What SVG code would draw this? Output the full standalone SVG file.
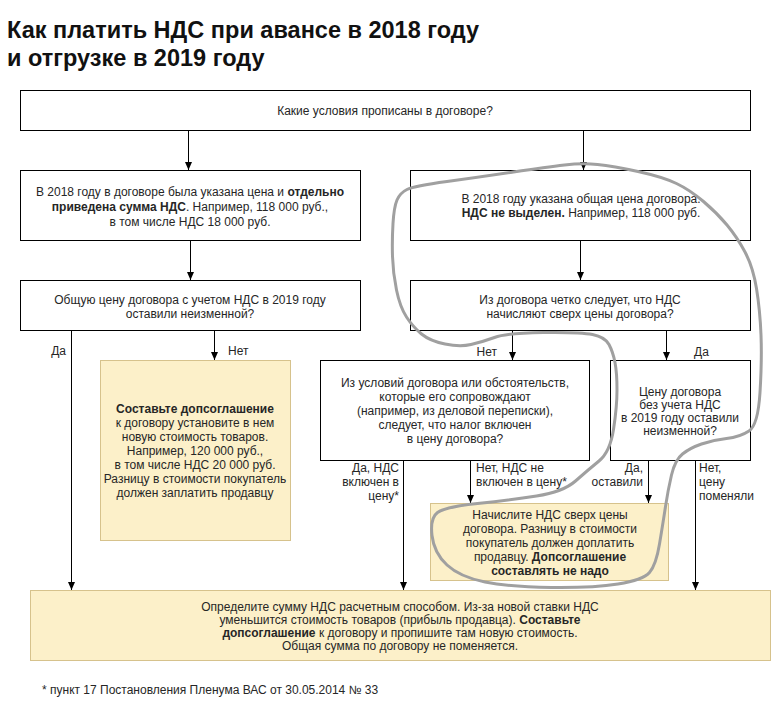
<svg xmlns="http://www.w3.org/2000/svg" width="771" height="701" viewBox="0 0 771 701">
  <defs>
    <marker id="ah" viewBox="0 0 8 8" refX="8" refY="4" markerWidth="8" markerHeight="8" markerUnits="userSpaceOnUse" orient="auto">
      <path d="M0,0.5 L8,4 L0,7.5 Z" fill="#000"/>
    </marker>
    <style>
      .box{fill:#fff;stroke:#000;stroke-width:1}
      .ybox{fill:#fcf0c9;stroke:#d6c28c;stroke-width:1}
      .t{font-family:"Liberation Sans",Arial,sans-serif;font-size:12px;fill:#262626;text-anchor:middle}
      .l{font-family:"Liberation Sans",Arial,sans-serif;font-size:12px;fill:#262626}
      .e{text-anchor:end}
      .b{font-weight:bold}
      .title{font-family:"Liberation Sans",Arial,sans-serif;font-size:23.5px;font-weight:bold;fill:#111}
      .conn line{stroke:#000;stroke-width:1;marker-end:url(#ah)}
    </style>
  </defs>
  <rect width="771" height="701" fill="#fff"/>

  <g id="title">
    <text class="title" x="7" y="38">Как платить НДС при авансе в 2018 году</text>
    <text class="title" x="7" y="66">и отгрузке в 2019 году</text>
  </g>

  <g id="n-top">
    <rect class="box" x="20.5" y="90.5" width="730" height="40"/>
    <text class="t" x="385" y="115">Какие условия прописаны в договоре?</text>
  </g>

  <g id="n-left1">
    <rect class="box" x="20.5" y="170.5" width="340" height="70"/>
    <text class="t" x="190" y="196">В 2018 году в договоре была указана цена и <tspan class="b">отдельно</tspan></text>
    <text class="t" x="190" y="211"><tspan class="b">приведена сумма НДС</tspan>. Например, 118 000 руб.,</text>
    <text class="t" x="190" y="226">в том числе НДС 18 000 руб.</text>
  </g>

  <g id="n-right1">
    <rect class="box" x="410.5" y="170.5" width="340" height="70"/>
    <text class="t" x="581" y="203">В 2018 году указана общая цена договора.</text>
    <text class="t" x="581" y="217"><tspan class="b">НДС не выделен.</tspan> Например, 118 000 руб.</text>
  </g>

  <g id="n-left2">
    <rect class="box" x="20.5" y="280.5" width="340" height="50"/>
    <text class="t" x="190" y="304">Общую цену договора с учетом НДС в 2019 году</text>
    <text class="t" x="190" y="318">оставили неизменной?</text>
  </g>

  <g id="n-right2">
    <rect class="box" x="410.5" y="280.5" width="340" height="50"/>
    <text class="t" x="580" y="304">Из договора четко следует, что НДС</text>
    <text class="t" x="580" y="318">начисляют сверх цены договора?</text>
  </g>

  <g id="n-yleft">
    <rect class="ybox" x="100.5" y="360.5" width="190" height="180"/>
    <text class="t b" x="195" y="413">Составьте допсоглашение</text>
    <text class="t" x="195" y="427">к договору установите в нем</text>
    <text class="t" x="195" y="441">новую стоимость товаров.</text>
    <text class="t" x="195" y="455">Например, 120 000 руб.,</text>
    <text class="t" x="195" y="469">в том числе НДС 20 000 руб.</text>
    <text class="t" x="195" y="483">Разницу в стоимости покупатель</text>
    <text class="t" x="195" y="497">должен заплатить продавцу</text>
  </g>

  <g id="n-mid">
    <rect class="box" x="320.5" y="360.5" width="269" height="100"/>
    <text class="t" x="455" y="387">Из условий договора или обстоятельств,</text>
    <text class="t" x="455" y="401">которые его сопровождают</text>
    <text class="t" x="455" y="415">(например, из деловой переписки),</text>
    <text class="t" x="455" y="429">следует, что налог включен</text>
    <text class="t" x="455" y="443">в цену договора?</text>
  </g>

  <g id="n-right3">
    <rect class="box" x="610.5" y="360.5" width="140" height="100"/>
    <text class="t" x="680" y="396">Цену договора</text>
    <text class="t" x="680" y="409">без учета НДС</text>
    <text class="t" x="680" y="422">в 2019 году оставили</text>
    <text class="t" x="680" y="435">неизменной?</text>
  </g>

  <g id="n-ymid">
    <rect class="ybox" x="430.5" y="503.5" width="238" height="77"/>
    <text class="t" x="550" y="519">Начислите НДС сверх цены</text>
    <text class="t" x="550" y="533">договора. Разницу в стоимости</text>
    <text class="t" x="550" y="547">покупатель должен доплатить</text>
    <text class="t" x="550" y="561">продавцу. <tspan class="b">Допсоглашение</tspan></text>
    <text class="t b" x="550" y="575">составлять не надо</text>
  </g>

  <g id="n-bottom">
    <rect class="ybox" x="30.5" y="590.5" width="740" height="70"/>
    <text class="t" x="400" y="611">Определите сумму НДС расчетным способом. Из-за новой ставки НДС</text>
    <text class="t" x="400" y="624">уменьшится стоимость товаров (прибыль продавца). <tspan class="b">Составьте</tspan></text>
    <text class="t" x="400" y="637"><tspan class="b">допсоглашение</tspan> к договору и пропишите там новую стоимость.</text>
    <text class="t" x="400" y="650">Общая сумма по договору не поменяется.</text>
  </g>

  <g id="connectors" class="conn">
    <line x1="188.5" y1="131" x2="188.5" y2="170"/>
    <line x1="583.5" y1="131" x2="583.5" y2="170"/>
    <line x1="190.5" y1="241" x2="190.5" y2="280"/>
    <line x1="580.5" y1="241" x2="580.5" y2="280"/>
    <line x1="71.5" y1="331" x2="71.5" y2="590"/>
    <line x1="214.5" y1="331" x2="214.5" y2="360"/>
    <line x1="512.5" y1="331" x2="512.5" y2="360"/>
    <line x1="666.5" y1="331" x2="666.5" y2="360"/>
    <line x1="403.5" y1="461" x2="403.5" y2="590"/>
    <line x1="470.5" y1="461" x2="470.5" y2="503"/>
    <line x1="648.5" y1="461" x2="648.5" y2="503"/>
    <line x1="695.5" y1="461" x2="695.5" y2="590"/>
  </g>

  <g id="labels">
    <text class="l e" x="66" y="355">Да</text>
    <text class="l" x="228" y="355">Нет</text>
    <text class="l e" x="497" y="356">Нет</text>
    <text class="l" x="694" y="356">Да</text>
    <text class="l e" x="399" y="472">Да, НДС</text>
    <text class="l e" x="399" y="486">включен в</text>
    <text class="l e" x="399" y="500">цену*</text>
    <text class="l" x="476" y="472">Нет, НДС не</text>
    <text class="l" x="476" y="486">включен в цену*</text>
    <text class="l e" x="643" y="472">Да,</text>
    <text class="l e" x="643" y="486">оставили</text>
    <text class="l" x="699" y="472">Нет,</text>
    <text class="l" x="699" y="486">цену</text>
    <text class="l" x="699" y="500">поменяли</text>
  </g>

  <g id="footnote">
    <text class="l" x="42" y="694">* пункт 17 Постановления Пленума ВАС от 30.05.2014 № 33</text>
  </g>

  <g id="hand-loop">
    <path fill="none" stroke="#a0a0a0" stroke-width="3" stroke-linecap="round" stroke-linejoin="round"
      d="M564.5,165 Q582,163 597.5,164.5 Q613,166 638,171.5 Q663,177 676.5,183.5 Q690,190 703.5,201.5 Q717,213 727,225 Q737,237 745,252 Q753,267 756.5,288.5 Q760,310 761,335 Q762,360 760,392.5 Q758,425 749,431 Q740,437 726.5,438.5 Q713,440 701.5,444 Q690,448 682.5,454 Q675,460 671.5,475 Q668,490 665.5,506.5 Q663,523 659.5,544 Q656,565 649.5,572.5 Q643,580 618,584 Q593,588 551.5,587.5 Q510,587 485,582 Q460,577 447,565 Q434,553 432,535.5 Q430,518 437.5,512.5 Q445,507 477.5,503.5 Q510,500 536.5,496 Q563,492 575.5,481 Q588,470 599,461 Q610,452 613.5,429.5 Q617,407 617,390 Q617,373 615,362.5 Q613,352 609,344.5 Q605,337 592.5,334.5 Q580,332 543.5,332.5 Q507,333 494.5,337.5 Q482,342 471,344.5 Q460,347 445,344 Q430,341 421.5,334 Q413,327 406.5,317 Q400,307 396.5,290 Q393,273 392.5,256.5 Q392,240 393,223.5 Q394,207 397,200 Q400,193 407,189.5 Q414,186 447,181.5 Q480,177 513.5,172 Q547,167 564.5,165 Z"/>
  </g>
</svg>
